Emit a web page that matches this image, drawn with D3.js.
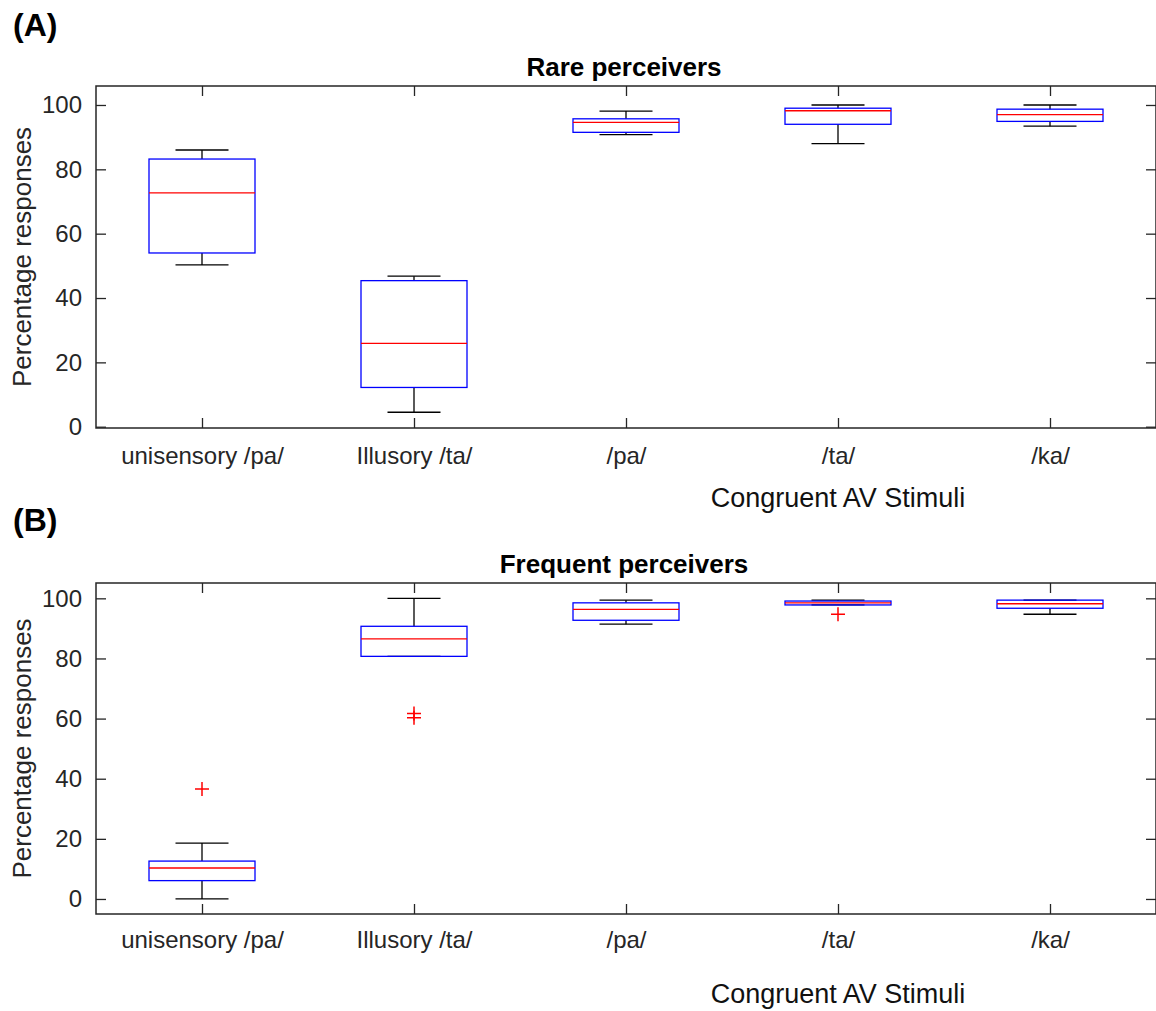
<!DOCTYPE html>
<html>
<head>
<meta charset="utf-8">
<script src="https://cdn.jsdelivr.net/npm/d3@7"></script>
<style>
  body { margin: 0; background: #fff; }
  svg text { font-family: "Liberation Sans", Arial, sans-serif; }
  .tick text { font-size: 24px; fill: #262626; }
  .domain { stroke: none; }
</style>
</head>
<body>
<script>
// Stimulus categories (x axis)
var categories = ["unisensory /pa/", "Illusory /ta/", "/pa/", "/ta/", "/ka/"];
var yTicks = [0, 20, 40, 60, 80, 100];

// (A) Rare perceivers - box plot stats
var rareWhiskerLow  = [50.3, 4.5, 90.8, 88.0, 93.4];
var rareQ1          = [54.0, 12.2, 91.5, 94.0, 94.9];
var rareMedian      = [72.7, 25.9, 94.6, 98.2, 97.0];
var rareQ3          = [83.2, 45.4, 95.7, 99.0, 98.7];
var rareWhiskerHigh = [86.0, 46.8, 98.1, 100, 100];
var rareOutliers    = [[], [], [], [], []];

// (B) Frequent perceivers
var freqWhiskerLow  = [0, 80.7, 91.4, 97.8, 94.7];
var freqQ1          = [6.1, 80.7, 92.7, 97.8, 96.7];
var freqMedian      = [10.3, 86.5, 96.3, 98.5, 98.2];
var freqQ3          = [12.6, 90.7, 98.5, 99.1, 99.4];
var freqWhiskerHigh = [18.6, 100, 99.4, 99.4, 99.4];
var freqOutliers    = [[36.6], [61.7, 60.3], [], [94.7], []];

var svgWidth = 1156, svgHeight = 1011;
var svg = d3.select("body").append("svg")
  .attr("width", svgWidth)
  .attr("height", svgHeight);

var plotLeft = 96, plotRight = 1156;
var axisColor = "#262626";

function buildRows(lo, q1, med, q3, hi, outl) {
  return categories.map(function(c, i) {
    return { cat: c, lo: lo[i], q1: q1[i], med: med[i], q3: q3[i], hi: hi[i], out: outl[i] };
  });
}

function drawPanel(opts) {
  var x = d3.scalePoint().domain(categories).range([plotLeft, plotRight]).padding(0.5);
  var y = d3.scaleLinear().domain(opts.yDomain).range([opts.bottom, opts.top]);
  var step = x.step();
  var boxW = step / 2, capW = step / 4;
  var g = svg.append("g");

  // panel letter and title
  svg.append("text").attr("x", 13).attr("y", opts.letterY)
    .attr("font-size", 32).attr("font-weight", "bold").attr("fill", "#000")
    .text(opts.letter);
  svg.append("text").attr("x", (plotLeft + plotRight) / 2 - 2).attr("y", opts.top - 10)
    .attr("text-anchor", "middle").attr("font-size", 26).attr("font-weight", "bold")
    .attr("fill", "#000").text(opts.title);

  // axes with inward ticks
  g.append("g").attr("transform", "translate(" + plotLeft + ",0)")
    .call(d3.axisLeft(y).tickValues(yTicks).tickSizeInner(-10).tickSizeOuter(0).tickPadding(14));
  g.append("g").attr("transform", "translate(" + plotRight + ",0)")
    .call(d3.axisRight(y).tickValues(yTicks).tickSizeInner(-10).tickSizeOuter(0).tickFormat(""));
  g.append("g").attr("transform", "translate(0," + opts.top + ")")
    .call(d3.axisTop(x).tickSizeInner(-10).tickSizeOuter(0).tickFormat(""));
  var bottom = g.append("g").attr("transform", "translate(0," + opts.bottom + ")")
    .call(d3.axisBottom(x).tickSizeInner(-10).tickSizeOuter(0).tickPadding(opts.tickPad));
  g.selectAll(".tick line").attr("stroke", axisColor).attr("stroke-width", 1.3);
  bottom.selectAll(".tick text").attr("dy", "0.71em");

  // frame
  g.append("rect").attr("x", plotLeft).attr("y", opts.top)
    .attr("width", plotRight - plotLeft).attr("height", opts.bottom - opts.top)
    .attr("fill", "none").attr("stroke", axisColor).attr("stroke-width", 1.5);

  // axis labels
  g.append("text")
    .attr("transform", "translate(31," + ((opts.top + opts.bottom) / 2) + ") rotate(-90)")
    .attr("text-anchor", "middle").attr("font-size", 26).attr("fill", axisColor)
    .text("Percentage responses");
  g.append("text").attr("x", x("/ta/")).attr("y", opts.bottom + opts.xlabelOff)
    .attr("text-anchor", "middle").attr("font-size", 27).attr("fill", "#111")
    .text("Congruent AV Stimuli");

  var boxes = g.selectAll(".box").data(opts.rows).enter().append("g").attr("class", "box");

  // whiskers
  boxes.append("line")
    .attr("x1", d => x(d.cat)).attr("x2", d => x(d.cat))
    .attr("y1", d => y(d.q3)).attr("y2", d => y(d.hi))
    .attr("stroke", "#000").attr("stroke-width", 1.3);
  boxes.append("line")
    .attr("x1", d => x(d.cat)).attr("x2", d => x(d.cat))
    .attr("y1", d => y(d.q1)).attr("y2", d => y(d.lo))
    .attr("stroke", "#000").attr("stroke-width", 1.3);
  boxes.append("line")
    .attr("x1", d => x(d.cat) - capW / 2).attr("x2", d => x(d.cat) + capW / 2)
    .attr("y1", d => y(d.hi)).attr("y2", d => y(d.hi))
    .attr("stroke", "#000").attr("stroke-width", 1.3);
  boxes.append("line")
    .attr("x1", d => x(d.cat) - capW / 2).attr("x2", d => x(d.cat) + capW / 2)
    .attr("y1", d => y(d.lo)).attr("y2", d => y(d.lo))
    .attr("stroke", "#000").attr("stroke-width", 1.3);

  // box
  boxes.append("rect")
    .attr("x", d => x(d.cat) - boxW / 2).attr("width", boxW)
    .attr("y", d => y(d.q3)).attr("height", d => y(d.q1) - y(d.q3))
    .attr("fill", "none").attr("stroke", "#0000ff").attr("stroke-width", 1.3);

  // median
  boxes.append("line")
    .attr("x1", d => x(d.cat) - boxW / 2).attr("x2", d => x(d.cat) + boxW / 2)
    .attr("y1", d => y(d.med)).attr("y2", d => y(d.med))
    .attr("stroke", "#ff0000").attr("stroke-width", 1.3);

  // outliers as '+'
  var pts = [];
  opts.rows.forEach(function(d) { d.out.forEach(function(v) { pts.push({ cat: d.cat, v: v }); }); });
  g.selectAll(".outlier").data(pts).enter().append("path")
    .attr("class", "outlier")
    .attr("transform", d => "translate(" + x(d.cat) + "," + y(d.v) + ")")
    .attr("d", "M-7,0H7M0,-7V7")
    .attr("stroke", "#ff0000").attr("stroke-width", 1.5).attr("fill", "none");
}

drawPanel({
  letter: "(A)", letterY: 36, title: "Rare perceivers",
  top: 86, bottom: 428, yDomain: [-0.4, 105.9], tickPad: 19, xlabelOff: 79,
  rows: buildRows(rareWhiskerLow, rareQ1, rareMedian, rareQ3, rareWhiskerHigh, rareOutliers)
});

drawPanel({
  letter: "(B)", letterY: 531, title: "Frequent perceivers",
  top: 583, bottom: 914, yDomain: [-5, 105.1], tickPad: 17, xlabelOff: 89,
  rows: buildRows(freqWhiskerLow, freqQ1, freqMedian, freqQ3, freqWhiskerHigh, freqOutliers)
});
</script>
</body>
</html>
